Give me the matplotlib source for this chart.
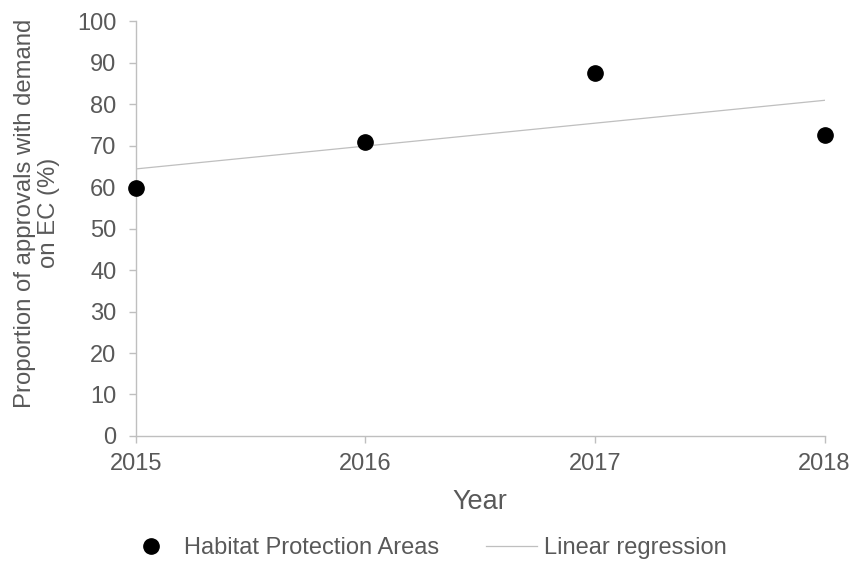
import numpy as np
import matplotlib.pyplot as plt

plt.rcParams['font.family'] = ['Liberation Sans', 'DejaVu Sans']

# data
years = [2015, 2016, 2017, 2018]
habitat_pct = [59.7, 70.8, 87.5, 72.5]
year_labels = ['2015', '2016', '2017', '2018']
y_ticks = list(range(0, 101, 10))

text_col = '#595959'
axis_col = '#BFBFBF'

fig = plt.figure(figsize=(8.53, 5.68), dpi=100)
ax = fig.add_axes([0.1594, 0.2324, 0.8072, 0.7306])

# linear fit through the points
coeffs = np.polyfit(years, habitat_pct, 1)
fit = np.poly1d(coeffs)
x_fit = np.array([years[0], years[-1]])

ax.plot(years, habitat_pct, 'o', color='black', markersize=11,
        label='Habitat Protection Areas', clip_on=False, zorder=3)
ax.plot(x_fit, fit(x_fit), '-', color='#BFBFBF', linewidth=0.9,
        label='Linear regression', zorder=2)

ax.set_xlim(years[0], years[-1])
ax.set_ylim(0, 100)
ax.set_xticks(years)
ax.set_xticklabels(year_labels)
ax.set_yticks(y_ticks)

for side in ['top', 'right']:
    ax.spines[side].set_visible(False)
for side in ['left', 'bottom']:
    ax.spines[side].set_color(axis_col)
    ax.spines[side].set_linewidth(1.0)

ax.tick_params(axis='both', colors=axis_col, labelcolor=text_col,
               labelsize=17, length=5, width=1.0, direction='out')
ax.tick_params(axis='y', pad=9)
ax.tick_params(axis='x', pad=7)

ax.set_xlabel('Year', fontsize=19.5, color=text_col, labelpad=10)
ax.set_ylabel('Proportion of approvals with demand\non EC (%)',
              fontsize=17.2, color=text_col, linespacing=1.12)
ax.yaxis.set_label_coords(-0.111, 0.537)

fig.legend(loc='center', bbox_to_anchor=(0.5, 0.035), ncol=2,
           frameon=False, fontsize=17, labelcolor=text_col,
           handlelength=2.16, columnspacing=2.0, handletextpad=0.3)

fig.savefig('out.png', dpi=100)
